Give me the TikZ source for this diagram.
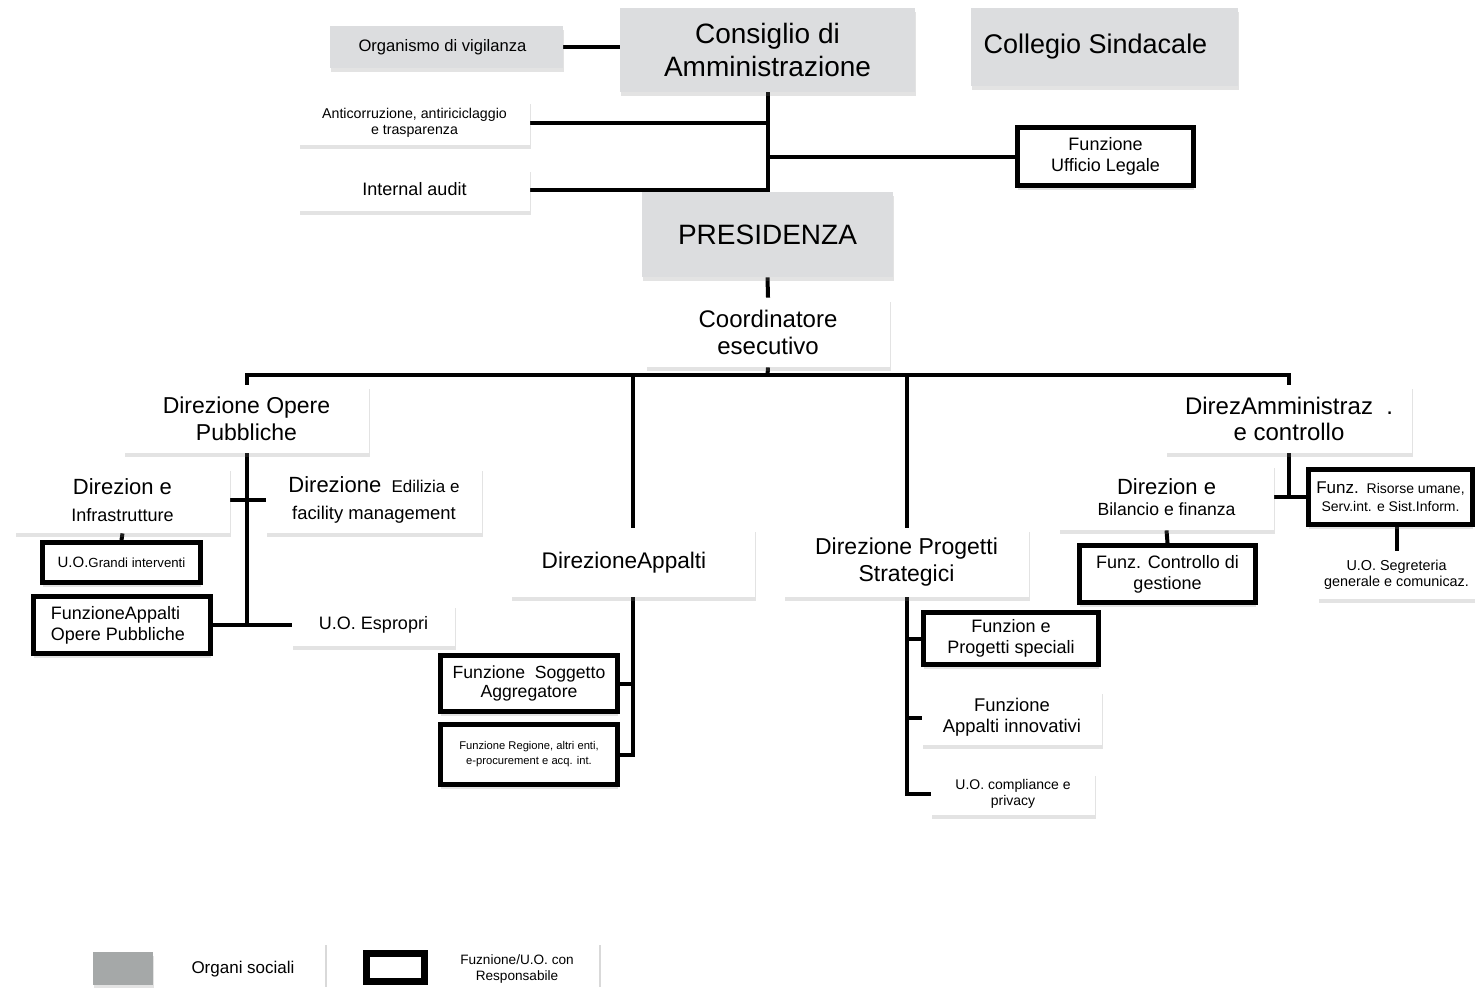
\documentclass[tikz,border=0pt]{standalone}
\usepackage{fontspec}
\setmainfont{Liberation Sans}
\usetikzlibrary{shadows,backgrounds}
\definecolor{organ}{HTML}{DCDDDF}
\definecolor{legray}{HTML}{A5A8A8}
\newcommand\fs[2]{\fontsize{#1}{#2}\selectfont}
\begin{document}
\begin{tikzpicture}[x=0.5pt,y=-0.5pt,
  sh/.style={drop shadow={shadow xshift=0.3pt,shadow yshift=-2pt,opacity=0.22}},
  organ/.style={fill=organ, sh, inner sep=0pt, align=center},
  unit/.style={fill=white, sh, inner sep=0pt, align=center},
  resp/.style={fill=white, draw=black, line width=2.5pt, sh, inner sep=0pt, align=center},
  link/.style={line width=2pt, black}]
\useasboundingbox (0,0) rectangle (1475,987);

% organi sociali
\node[organ, minimum width=116.5pt, minimum height=21pt, font=\fs{8.3}{10}] (ov) at (446.5,47) {Organismo di vigilanza\hspace*{4pt}};
\node[organ, minimum width=147.5pt, minimum height=42pt, font=\fs{14}{16.5}] (cda) at (767.5,50) {Consiglio di\\Amministrazione};
\node[organ, minimum width=133.5pt, minimum height=39pt, font=\fs{13.5}{16}] (cs) at (1104.5,47) {Collegio Sindacale\hspace*{9pt}};
\node[organ, minimum width=125.5pt, minimum height=42.5pt, font=\fs{14}{16}] (pres) at (767.5,234.5) {PRESIDENZA};

% staff
\node[unit, minimum width=115.5pt, minimum height=22.5pt, font=\fs{7.1}{8}] (anti) at (414.5,122.5) {Anticorruzione, antiriciclaggio\\e trasparenza};
\node[unit, minimum width=115.5pt, minimum height=21.5pt, font=\fs{9}{10}] (ia) at (414.5,189.5) {Internal audit};
\node[resp, minimum width=88pt, minimum height=29pt, font=\fs{9}{10.5}] (ufl) at (1105.5,156.5) {Funzione\\Ufficio Legale};
\node[unit, minimum width=122pt, minimum height=34.5pt, font=\fs{12}{13.5}] (coord) at (768,332.5) {Coordinatore\\esecutivo};

% Direzione Opere Pubbliche
\node[unit, minimum width=122.5pt, minimum height=34pt, font=\fs{11.5}{13.5}] (dop) at (246.5,419) {Direzione Opere\\Pubbliche};
\node[unit, minimum width=107.5pt, minimum height=33pt, font=\fs{9}{13.5}] (dinf) at (122.5,500) {{\fs{11}{13.5}Direzion e}\\Infrastrutture};
\node[unit, minimum width=108pt, minimum height=33pt, font=\fs{9.2}{13.5}] (dedil) at (374,500) {{\fs{11}{13.5}Direzione}\ \ {\fs{8.5}{13.5}Edilizia e}\\facility management};
\node[resp, minimum width=79pt, minimum height=20pt] (ugi) at (121.5,562.5) {{\fs{7.5}{8}U.O.}{\fs{6.6}{8}Grandi interventi}};
\node[resp, minimum width=88.5pt, minimum height=28.5pt, align=left, font=\fs{9}{10.5}] (fapp) at (122,625) {FunzioneAppalti\\Opere Pubbliche\hspace*{4pt}};
\node[unit, minimum width=81.5pt, minimum height=21pt, font=\fs{9}{10}] (uoesp) at (373.5,625) {U.O. Espropri};

% Direzione Appalti
\node[unit, minimum width=122pt, minimum height=34.5pt, font=\fs{11.3}{13.5}] (dapp) at (633,562.5) {DirezioneAppalti\hspace*{9pt}};
\node[resp, minimum width=88.5pt, minimum height=28pt, font=\fs{8.8}{9.8}] (fsa) at (529,683.5) {Funzione\ \ Soggetto\\Aggregatore};
\node[resp, minimum width=88.5pt, minimum height=30pt, font=\fs{5.6}{7.5}] (freg) at (529,754.5) {Funzione Regione, altri enti,\\e-procurement e acq. int.};

% Direzione Progetti Strategici
\node[unit, minimum width=122.5pt, minimum height=34.5pt, font=\fs{11.5}{13.5}] (dps) at (906.5,562.5) {Direzione Progetti\\Strategici};
\node[resp, minimum width=87.5pt, minimum height=26pt, font=\fs{9}{10.5}] (fps) at (1011,638.5) {Funzion e\\Progetti speciali};
\node[unit, minimum width=90pt, minimum height=27.5pt, font=\fs{9.2}{10.5}] (fai) at (1012,717.5) {Funzione\\Appalti innovativi};
\node[unit, minimum width=82pt, minimum height=21.5pt, font=\fs{7}{8}] (uoc) at (1013,793.5) {U.O. compliance e\\privacy};

% Direzione Amministrazione
\node[unit, minimum width=123pt, minimum height=34pt, font=\fs{12}{13}] (dam) at (1289,419) {DirezAmministraz\ \ .\\e controllo};
\node[unit, minimum width=107.5pt, minimum height=33pt, font=\fs{8.8}{10.5}] (dbil) at (1166.5,497) {{\fs{11}{10.5}Direzion e}\\Bilancio e finanza};
\node[resp, minimum width=82pt, minimum height=27.5pt, font=\fs{7}{9}] (frs) at (1390.5,497) {{\fs{8.5}{9}Funz.}\ \ Risorse umane,\\Serv.int. e Sist.Inform.};
\node[unit, minimum width=78.5pt, minimum height=24pt, font=\fs{7.2}{8}] (uoseg) at (1396.5,575) {U.O. Segreteria\\generale e comunicaz.};
\node[resp, minimum width=88pt, minimum height=28.5pt, font=\fs{9}{10.5}] (fcg) at (1167.5,574) {Funz. Controllo di\\gestione};

% legend
\node[fill=legray, sh, minimum width=30pt, minimum height=16.5pt, inner sep=0pt] (lg1) at (123,968.5) {};
\node[font=\fs{8.5}{10}] (lt1) at (243,969) {Organi sociali};
\node[draw=black, fill=white, line width=3.5pt, minimum width=29pt, minimum height=14pt, inner sep=0pt] (lg2) at (395.5,967.5) {};
\node[font=\fs{6.8}{8}, align=center] (lt2) at (517,969) {Fuznione/U.O. con\\Responsabile};
\draw[black!15, line width=0.8pt] (326,945) -- (326,987);
\draw[black!15, line width=0.8pt] (600,945) -- (600,987);

\begin{pgfonlayer}{background}
\draw[link] (ov.east) -- (ov.east -| cda.west);
\draw[link] (cda.south) -- (pres.north);
\draw[link] (anti.east) -- (anti.east -| cda.south);
\draw[link] (ia.east) -- (ia.east -| cda.south);
\draw[link] (cda.south |- ufl.west) -- (ufl.west);
\draw[link] (pres.south) -- (coord.north);
\coordinate (bus) at (767.5,375);
\draw[link] (coord.south) -- (bus);
\draw[link] (dop.north) |- (bus) -| (dam.north);
\draw[link] (dapp.north) -- (dapp.north |- bus);
\draw[link] (dps.north) -- (dps.north |- bus);
\draw[link] (dop.south) -- (dop.south |- fapp.east);
\draw[link] (fapp.east) -- (uoesp.west);
\draw[link] (dinf.east) -- (dedil.west);
\draw[link] (dinf.south) -- (ugi.north);
\draw[link] (dapp.south) |- (freg.east);
\draw[link] (fsa.east) -- (fsa.east -| dapp.south);
\draw[link] (dps.south) |- (uoc.west);
\draw[link] (fps.west) -- (fps.west -| dps.south);
\draw[link] (fai.west) -- (fai.west -| dps.south);
\draw[link] (dam.south) -- (dam.south |- dbil.east);
\draw[link] (dbil.east) -- (frs.west);
\draw[link] (dbil.south) -- (fcg.north);
\draw[link] (uoseg.north |- frs.south) -- (uoseg.north);
\end{pgfonlayer}
\end{tikzpicture}
\end{document}
